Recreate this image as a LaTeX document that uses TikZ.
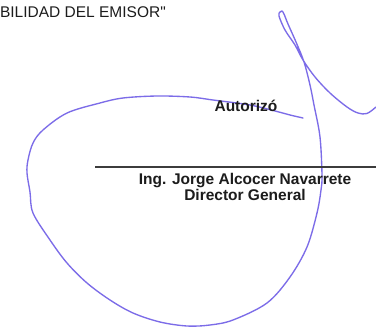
\documentclass[tikz,border=0pt]{standalone}
\usepackage{fontspec}
\setmainfont{Liberation Sans}
\newfontfamily\plainfont{Liberation Sans}
\definecolor{ink}{RGB}{124,108,232}
\definecolor{txt}{RGB}{28,28,28}
\begin{document}
\begin{tikzpicture}[x=1pt,y=-1pt,
  lbl/.style={font=\plainfont\fontsize{15.5}{16}\selectfont, text=txt, inner sep=0pt},
  blbl/.style={lbl, font=\fontsize{15.5}{16}\selectfont\bfseries},
  sig/.style={draw=ink, line width=1.35pt, line cap=round, line join=round}]
\useasboundingbox (0,0) rectangle (376,327);
\clip (0,0) rectangle (376,327);
\fill[white] (0,0) rectangle (376,327);

% signature
\draw[sig] plot[smooth, tension=0.55] coordinates {
  (303,118) (290,115) (277,111.5) (250,105) (213,100) (190,97) (157,96)
  (123,98) (100,103) (67,113) (43,130) (33,143) (28,160) (27,173) (30,192)
  (33,213) (50,240) (67,263) (87,283) (110,300) (133,313) (160,322) (187,326)
  (210,325) (233,320) (267,303) (290,277) (307,247) (317,213) (321,190)
  (322,175) (320,137) (314,105) (310,85) (304,62) (296,42) (288,24)
  (284,14) (282,11) (280,12) (279,16) (285,30) (295,45) (303,60)
  (315,77) (330,93) (347,107) (358,113) (367,113.5) (376,107)};

% signature line
\coordinate (l1) at (95,167);
\coordinate (l2) at (380,167);
\draw[draw={rgb,255:red,60;green,60;blue,60}, line width=1.4pt] (l1) -- (l2);

% texts
\node[lbl, anchor=base east] (top) at (166,17) {BILIDAD DEL EMISOR"};
\node[blbl, anchor=base] (aut) at (246,111) {Autorizó};
\node[blbl, anchor=base] (name) at (245,184) {Ing. Jorge Alcocer Navarrete};
\node[blbl, anchor=base] (role) at (245,200) {Director General};
\end{tikzpicture}
\end{document}
